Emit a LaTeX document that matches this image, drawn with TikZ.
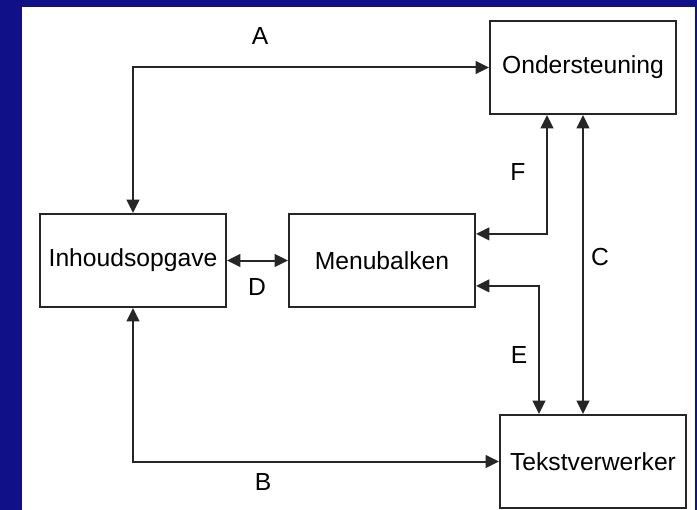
\documentclass[tikz,border=0pt]{standalone}
\usepackage{fontspec}
\setmainfont{Liberation Sans}
\usepackage{xcolor}
\usepackage{tikz}
\usetikzlibrary{arrows.meta}

\definecolor{slideblue}{RGB}{16,16,136}
\tikzset{
  module/.style={draw=black!85, line width=1.5pt, fill=white, inner sep=0pt,
    minimum width=139.5pt, minimum height=69.75pt,
    font=\fontsize{18.5}{22}\selectfont},
  link/.style={draw=black!85, line width=1.5pt,
    {Triangle[length=10pt,width=9.5pt]}-{Triangle[length=10pt,width=9.5pt]}},
  linklabel/.style={inner sep=0.75pt, font=\fontsize{18.5}{22}\selectfont}
}

\begin{document}
\begin{tikzpicture}[x=0.75pt,y=0.75pt,yscale=-1,xscale=1]
% Background
\fill [slideblue] (0,0) rectangle (697,510) ;
\fill [white] (22,7) rectangle (695,510) ;
\useasboundingbox (0,0) rectangle (697,510) ;
% Boxes
\node [module] (ond) at (583,67.5) {Ondersteuning};
\node [module] (inh) at (133,260.5) {Inhoudsopgave};
\node [module] (men) at (382,260.5) {Menubalken};
\node [module] (tek) at (593,461.5) {Tekstverwerker};
% Bends on the right
\coordinate (fTop) at ([xshift=-27pt]ond.south) ;
\coordinate (fEnd) at ([yshift=-20pt]men.east) ;
\coordinate (eTop) at ([yshift=19pt]men.east) ;
\coordinate (eEnd) at ([xshift=-40.5pt]tek.north) ;
% Connectors
\draw [link] (inh.north) |- (ond.west) ;
\draw [link] (inh.south) |- (tek.west) ;
\draw [link] (inh.east) -- (men.west) ;
\draw [link] (fEnd) -| (fTop) ;
\draw [link] (eTop) -| (eEnd) ;
\draw [link] (ond.south) -- (ond.south |- tek.north) ;
% Text Node
\node [linklabel] (lblA) at (260,36) {A};
\node [linklabel] (lblB) at (263,482) {B};
\node [linklabel] (lblC) at (600,257) {C};
\node [linklabel] (lblD) at (257,287) {D};
\node [linklabel] (lblE) at (519,355) {E};
\node [linklabel] (lblF) at (518,172) {F};
\end{tikzpicture}
\end{document}
